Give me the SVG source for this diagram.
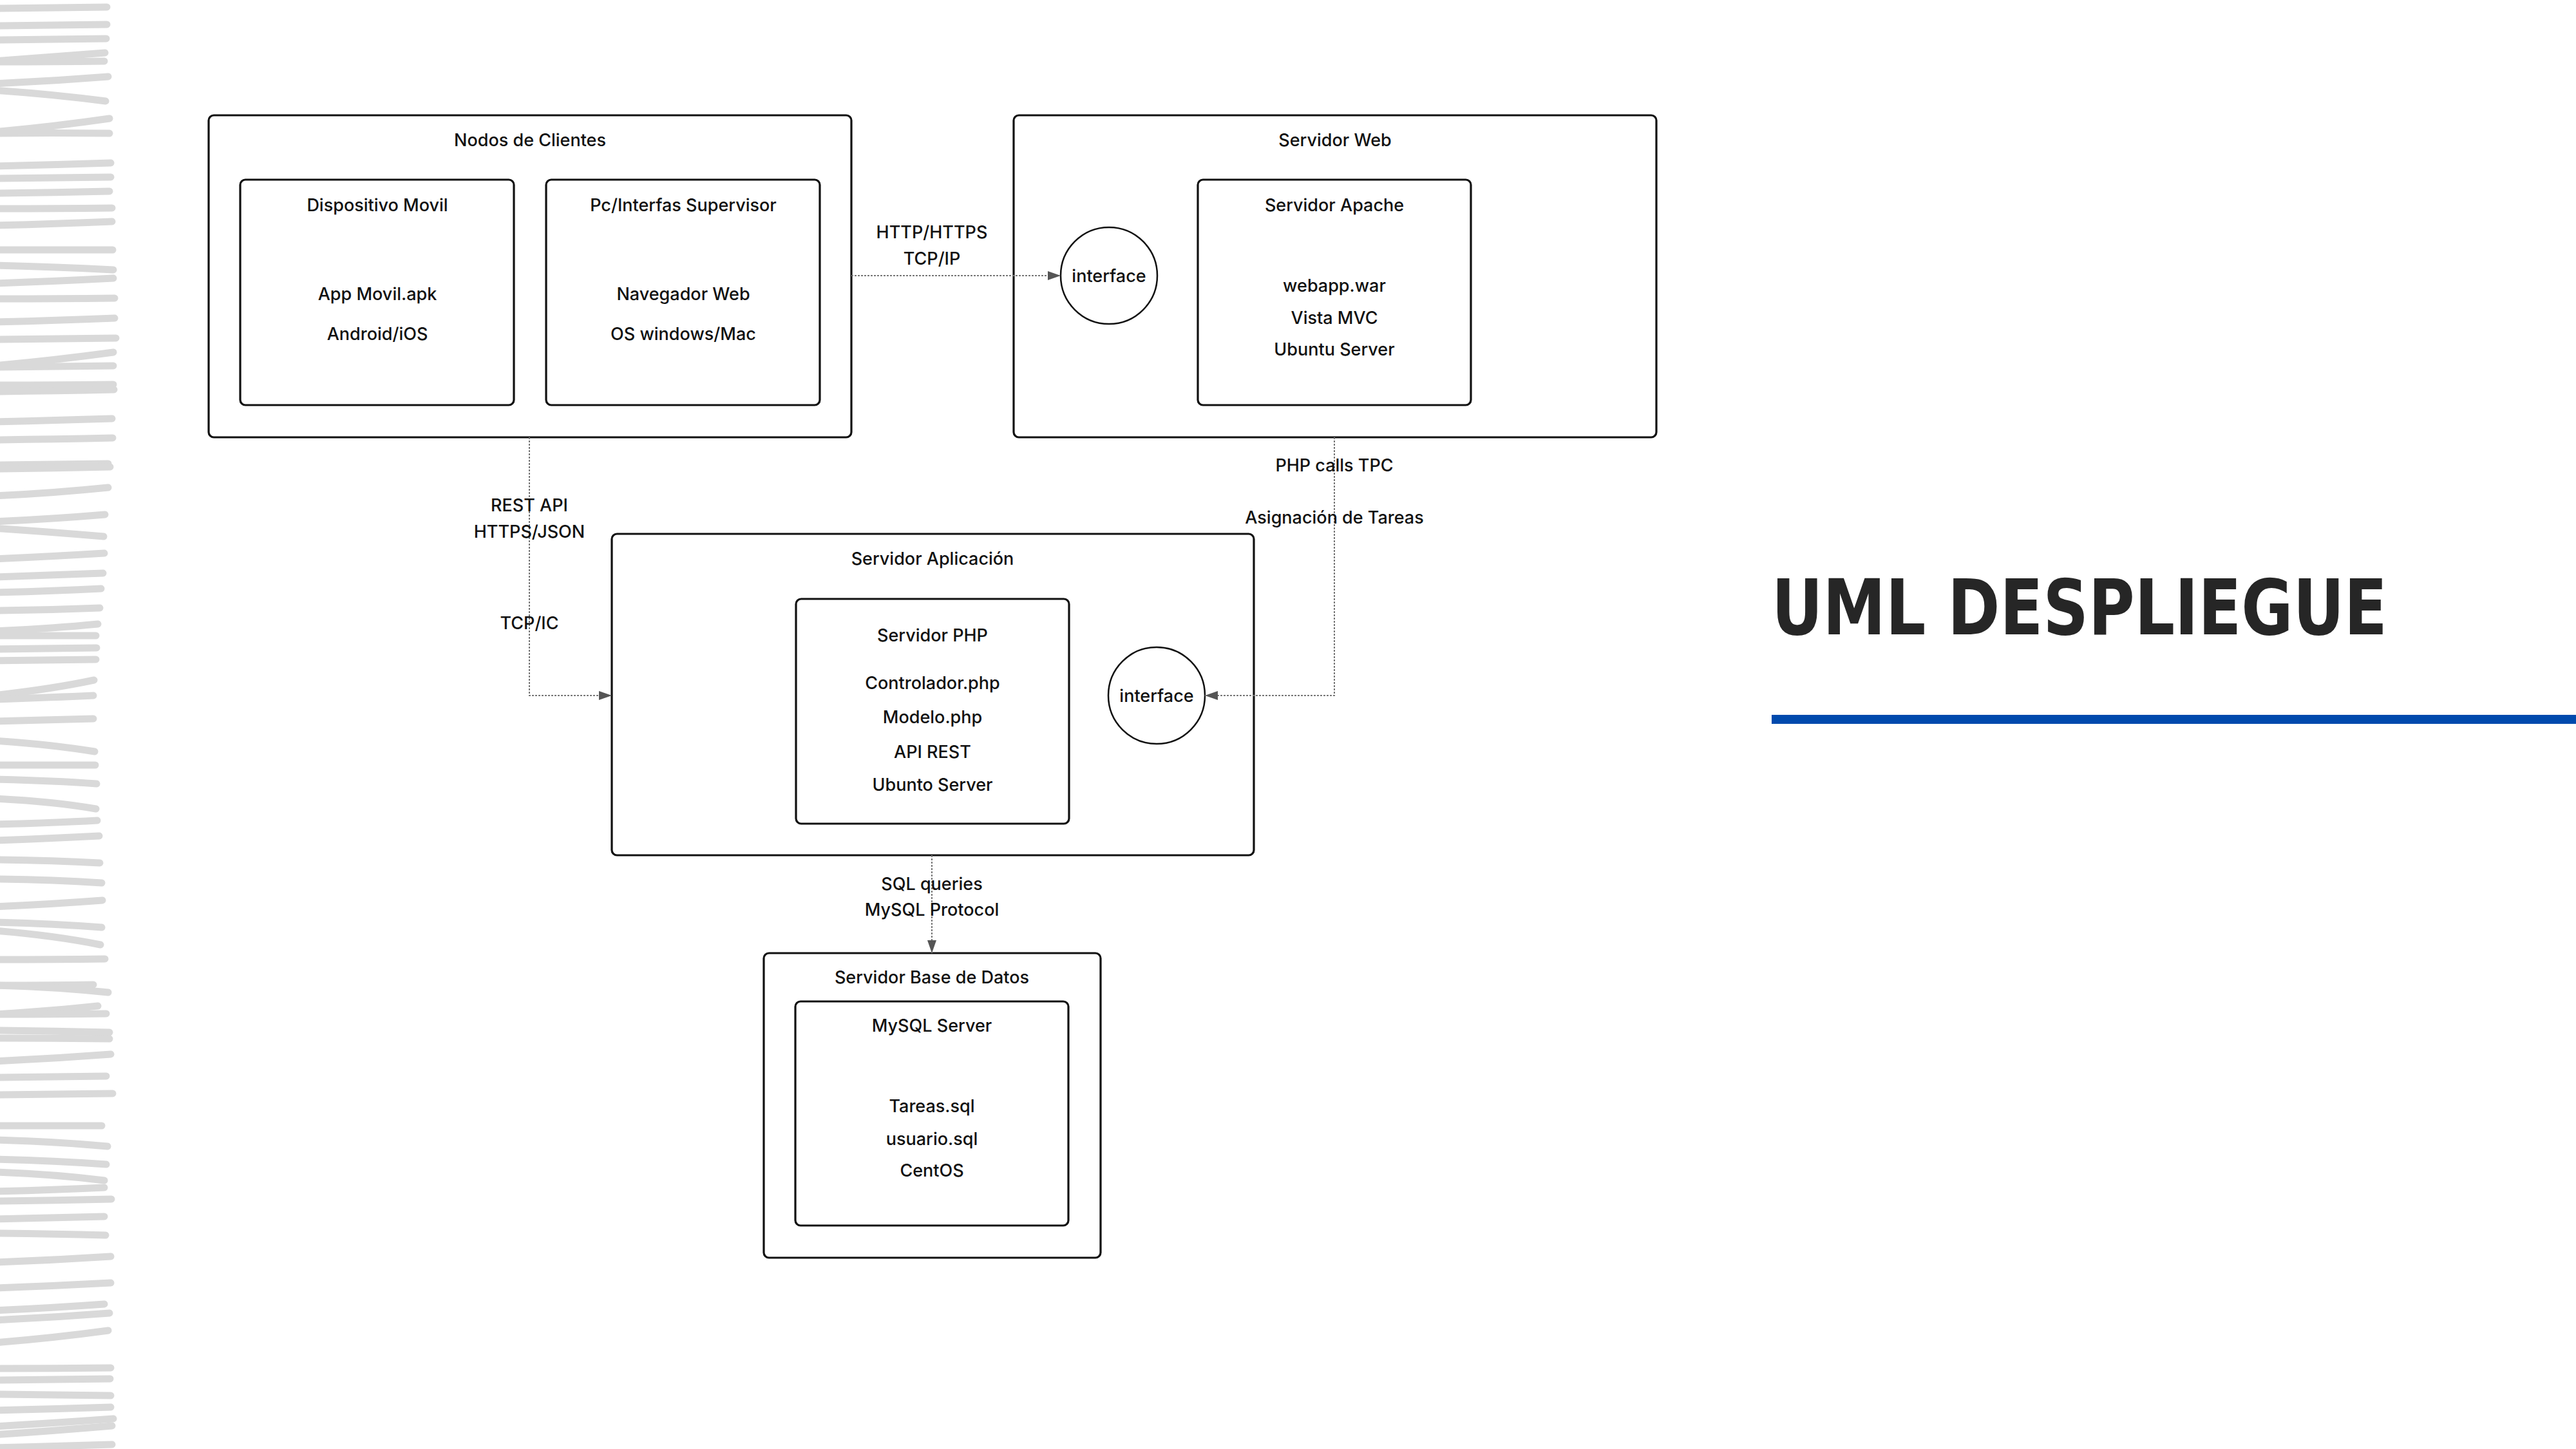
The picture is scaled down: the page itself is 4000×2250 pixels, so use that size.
<svg xmlns="http://www.w3.org/2000/svg" width="4000" height="2250" viewBox="0 0 4000 2250">
<style>
.box{fill:#fff;stroke:#111;stroke-width:3.2}
.ifc{fill:#fff;stroke:#111;stroke-width:2.5}
.t{font-family:Inter,"Liberation Sans",sans-serif;font-size:27px;font-weight:500;fill:#111;text-anchor:middle}
.conn{fill:none;stroke:#777;stroke-width:2;stroke-dasharray:3 2}
.brush path{fill:none;stroke:#d9d9d9;stroke-width:11;stroke-linecap:round}
.title{font-family:"Liberation Sans Narrow","DejaVu Sans Condensed","DejaVu Sans",sans-serif;font-weight:700;font-size:120px;fill:#262626}
</style>
<defs>
<marker id="arr" markerUnits="userSpaceOnUse" markerWidth="20" markerHeight="14" viewBox="0 0 20 14" refX="20" refY="7" orient="auto">
<path d="M0,0 L20,7 L0,14 z" fill="#555"/>
</marker>
</defs>
<rect width="4000" height="2250" fill="#fff"/>
<g class="brush">
<path d="M-10 13 Q80 12 166 11"/><path d="M-10 40 Q80 39 166 38"/><path d="M-10 62 Q80 61 165 60"/>
<path d="M-10 95 Q80 88 163 82"/><path d="M-10 96 Q80 96 162 95"/><path d="M-10 130 Q80 126 168 119"/>
<path d="M-10 140 Q80 146 164 157"/><path d="M-10 205 Q80 197 170 184"/><path d="M-10 207 Q80 206 170 207"/>
<path d="M-10 258 Q80 256 172 253"/><path d="M-10 277 Q80 276 172 275"/><path d="M-10 300 Q80 299 170 297"/>
<path d="M-10 324 Q80 324 174 323"/><path d="M-10 350 Q80 348 174 344"/><path d="M-10 388 Q80 388 175 388"/>
<path d="M-10 412 Q80 414 176 419"/><path d="M-10 440 Q80 437 176 432"/><path d="M-10 464 Q80 464 178 463"/>
<path d="M-10 500 Q80 498 178 494"/><path d="M-10 527 Q80 526 180 525"/><path d="M-10 568 Q80 560 176 547"/>
<path d="M-10 570 Q80 569 176 568"/><path d="M-10 598 Q80 598 176 597"/><path d="M-10 608 Q80 607 177 605"/>
<path d="M-10 655 Q80 653 174 650"/><path d="M-10 683 Q80 682 175 680"/><path d="M-10 722 Q80 721 168 720"/>
<path d="M-10 728 Q80 727 171 725"/><path d="M-10 770 Q80 766 168 757"/><path d="M-10 810 Q80 806 163 799"/>
<path d="M-10 820 Q80 826 161 833"/><path d="M-10 868 Q80 864 162 859"/><path d="M-10 896 Q80 893 160 890"/>
<path d="M-10 920 Q80 918 157 914"/><path d="M-10 948 Q80 947 155 944"/><path d="M-10 980 Q80 976 152 969"/>
<path d="M-10 987 Q80 987 149 987"/><path d="M-10 1008 Q80 1007 150 1006"/><path d="M-10 1026 Q80 1025 149 1024"/>
<path d="M-10 1080 Q80 1070 146 1056"/><path d="M-10 1086 Q80 1083 145 1080"/><path d="M-10 1120 Q80 1118 145 1116"/>
<path d="M-10 1150 Q80 1156 147 1167"/><path d="M-10 1188 Q80 1188 148 1188"/><path d="M-10 1210 Q80 1212 150 1217"/>
<path d="M-10 1240 Q80 1244 149 1256"/><path d="M-10 1280 Q80 1278 151 1274"/><path d="M-10 1305 Q80 1302 154 1298"/>
<path d="M-10 1335 Q80 1336 155 1340"/><path d="M-10 1365 Q80 1366 158 1371"/><path d="M-10 1408 Q80 1404 159 1398"/>
<path d="M-10 1432 Q80 1434 158 1440"/><path d="M-10 1445 Q80 1452 156 1467"/><path d="M-10 1490 Q80 1490 163 1489"/>
<path d="M-10 1530 Q80 1530 145 1529"/><path d="M-10 1530 Q80 1532 168 1541"/><path d="M-10 1575 Q80 1570 152 1562"/>
<path d="M-10 1575 Q80 1575 165 1574"/><path d="M-10 1600 Q80 1601 170 1603"/><path d="M-10 1612 Q80 1612 170 1613"/>
<path d="M-10 1648 Q80 1644 172 1637"/><path d="M-10 1673 Q80 1672 165 1671"/><path d="M-10 1700 Q80 1699 175 1698"/>
<path d="M-10 1748 Q80 1748 158 1748"/><path d="M-10 1770 Q80 1772 167 1780"/><path d="M-10 1800 Q80 1802 165 1808"/>
<path d="M-10 1820 Q80 1823 162 1833"/><path d="M-10 1850 Q80 1848 162 1844"/><path d="M-10 1865 Q80 1864 173 1862"/>
<path d="M-10 1893 Q80 1891 162 1889"/><path d="M-10 1915 Q80 1916 164 1918"/><path d="M-10 1960 Q80 1957 172 1951"/>
<path d="M-10 2000 Q80 1997 172 1992"/><path d="M-10 2035 Q80 2031 162 2025"/><path d="M-10 2050 Q80 2046 170 2039"/>
<path d="M-10 2085 Q80 2078 168 2066"/><path d="M-10 2125 Q80 2125 172 2124"/><path d="M-10 2143 Q80 2142 171 2141"/>
<path d="M-10 2165 Q80 2166 172 2167"/><path d="M-10 2190 Q80 2188 172 2185"/><path d="M-10 2215 Q80 2210 176 2203"/>
<path d="M-10 2228 Q80 2222 174 2214"/><path d="M-10 2248 Q80 2246 174 2243"/>
</g>
<g id="n-clientes">
<rect class="box" x="324" y="179" width="998" height="500" rx="8"/>
<text class="t" x="823" y="227">Nodos de Clientes</text>
</g>
<g id="n-movil">
<rect class="box" x="373" y="279" width="425" height="350" rx="8"/>
<text class="t" x="586" y="328">Dispositivo Movil</text>
<text class="t" x="586" y="466">App Movil.apk</text>
<text class="t" x="586" y="528">Android/iOS</text>
</g>
<g id="n-pc">
<rect class="box" x="848" y="279" width="425" height="350" rx="8"/>
<text class="t" x="1061" y="328">Pc/Interfas Supervisor</text>
<text class="t" x="1061" y="466">Navegador Web</text>
<text class="t" x="1061" y="528">OS windows/Mac</text>
</g>
<g id="n-web">
<rect class="box" x="1574" y="179" width="998" height="500" rx="8"/>
<text class="t" x="2073" y="227">Servidor Web</text>
</g>
<g id="n-apache">
<rect class="box" x="1860" y="279" width="424" height="350" rx="8"/>
<text class="t" x="2072" y="328">Servidor Apache</text>
<text class="t" x="2072" y="453">webapp.war</text>
<text class="t" x="2072" y="503">Vista MVC</text>
<text class="t" x="2072" y="552">Ubuntu Server</text>
</g>
<g id="n-if-web">
<circle class="ifc" cx="1722" cy="428" r="75"/>
<text class="t" x="1722" y="438">interface</text>
</g>
<g id="n-app">
<rect class="box" x="950" y="829" width="997" height="499" rx="8"/>
<text class="t" x="1448" y="877">Servidor Aplicación</text>
</g>
<g id="n-php">
<rect class="box" x="1236" y="930" width="424" height="349" rx="8"/>
<text class="t" x="1448" y="996">Servidor PHP</text>
<text class="t" x="1448" y="1070">Controlador.php</text>
<text class="t" x="1448" y="1123">Modelo.php</text>
<text class="t" x="1448" y="1177">API REST</text>
<text class="t" x="1448" y="1228">Ubunto Server</text>
</g>
<g id="n-if-app">
<circle class="ifc" cx="1796" cy="1080" r="75"/>
<text class="t" x="1796" y="1090">interface</text>
</g>
<g id="n-db">
<rect class="box" x="1186" y="1480" width="523" height="473" rx="8"/>
<text class="t" x="1447" y="1527">Servidor Base de Datos</text>
</g>
<g id="n-mysql">
<rect class="box" x="1235" y="1555" width="424" height="348" rx="8"/>
<text class="t" x="1447" y="1602">MySQL Server</text>
<text class="t" x="1447" y="1727">Tareas.sql</text>
<text class="t" x="1447" y="1778">usuario.sql</text>
<text class="t" x="1447" y="1827">CentOS</text>
</g>
<g id="connectors">
<path class="conn" d="M1322 428 H1647" marker-end="url(#arr)"/>
<path class="conn" d="M822 679 V1080 H950" marker-end="url(#arr)"/>
<path class="conn" d="M2072 679 V1080 H1871" marker-end="url(#arr)"/>
<path class="conn" d="M1447 1328 V1480" marker-end="url(#arr)"/>
<text class="t" x="1447" y="370">HTTP/HTTPS</text>
<text class="t" x="1447" y="411">TCP/IP</text>
<text class="t" x="822" y="794">REST API</text>
<text class="t" x="822" y="835">HTTPS/JSON</text>
<text class="t" x="822" y="977">TCP/IC</text>
<text class="t" x="2072" y="732">PHP calls TPC</text>
<text class="t" x="2072" y="813">Asignación de Tareas</text>
<text class="t" x="1447" y="1382">SQL queries</text>
<text class="t" x="1447" y="1422">MySQL Protocol</text>
</g>
<g id="title">
<text class="title" x="2751" y="985" textLength="956" lengthAdjust="spacingAndGlyphs">UML DESPLIEGUE</text>
<rect x="2751" y="1110" width="1249" height="14" fill="#004aad"/>
</g>
</svg>
